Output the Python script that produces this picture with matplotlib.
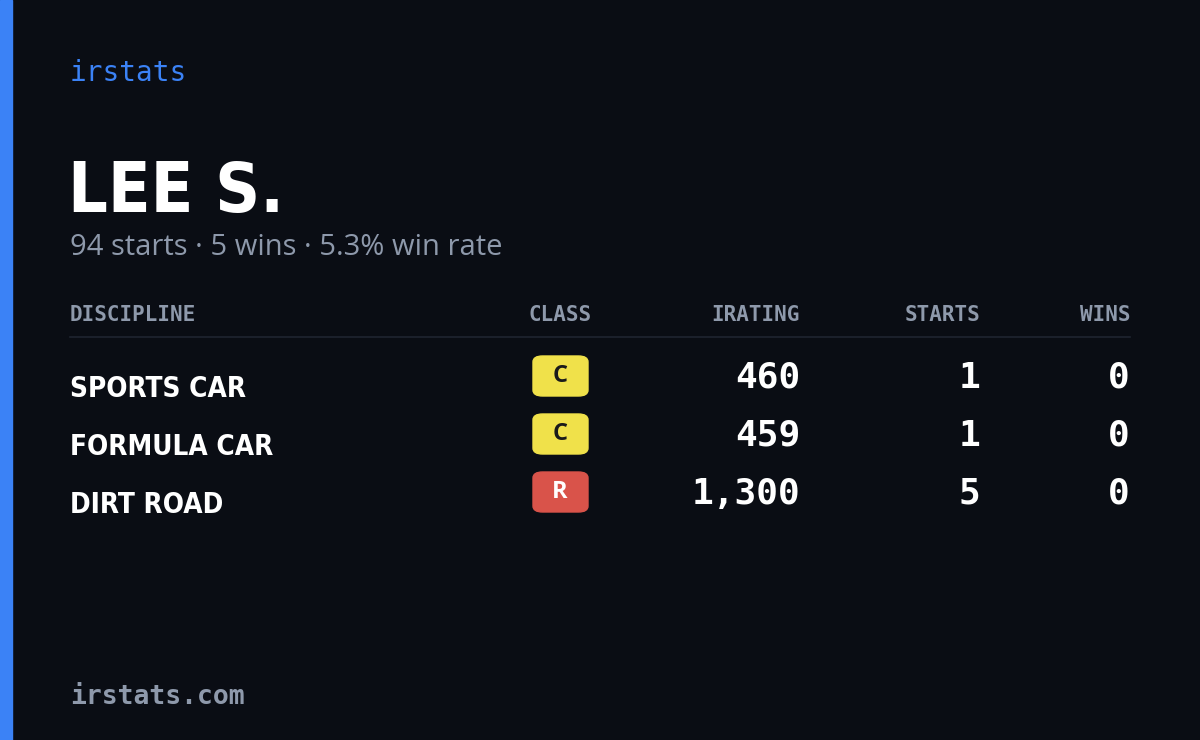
import matplotlib
matplotlib.use("Agg")
import matplotlib.pyplot as plt
from matplotlib.patches import FancyBboxPatch, Rectangle

disciplines = ["SPORTS CAR", "FORMULA CAR", "DIRT ROAD"]
classes = ["C", "C", "R"]
iratings = [460, 459, 1300]
starts = [1, 1, 5]
wins = [0, 0, 0]
driver = "LEE S."
total_starts, total_wins = 94, 5

W, H = 1200, 740
BG = "#0a0d14"
MUTED = "#8e99ab"
class_colors = {"C": "#f0e14a", "R": "#d9534a"}

mono = "DejaVu Sans Mono"
sans = "Open Sans"
cond = dict(family="DejaVu Sans", stretch="condensed", weight="bold")

fig = plt.figure(figsize=(W / 100, H / 100), dpi=100, facecolor=BG)


def px(x, y):
    return x / W, 1 - y / H


def txt(x, y, s, **kw):
    fig.text(*px(x, y), s, **kw)


fig.patches.append(Rectangle(px(0, H), 12 / W, 1, transform=fig.transFigure, color="#3b82f6"))

txt(70, 73, "irstats", family=mono, size=20, color="#3b82f6", va="center")
txt(68, 212, driver, size=50, color="white", va="baseline", **cond)
rate = total_wins / total_starts * 100
txt(70, 255, f"{total_starts} starts · {total_wins} wins · {rate:.1f}% win rate",
    family=sans, size=21, color=MUTED, va="baseline")

hy = 321
hdr = dict(family=mono, size=15, weight="bold", color=MUTED, va="baseline")
txt(70, hy, "DISCIPLINE", ha="left", **hdr)
txt(560, hy, "CLASS", ha="center", **hdr)
txt(800, hy, "IRATING", ha="right", **hdr)
txt(980, hy, "STARTS", ha="right", **hdr)
txt(1130, hy, "WINS", ha="right", **hdr)
fig.lines.append(plt.Line2D([70 / W, 1130 / W], [1 - 337 / H] * 2, transform=fig.transFigure,
                            color="#1f2530", lw=1.2))

for i, (d, c, ir, s, w) in enumerate(zip(disciplines, classes, iratings, starts, wins)):
    cy = 376 + 58 * i
    txt(70, cy + 21, d, size=20, color="white", va="baseline", **cond)
    x0, y0 = px(533, cy + 20)
    fig.patches.append(FancyBboxPatch((x0, y0), 55 / W, 40 / H, transform=fig.transFigure,
                                      boxstyle="round,pad=0,rounding_size=0.008",
                                      color=class_colors[c]))
    txt(560, cy, c, family=sans, size=17, weight="bold", ha="center", va="center",
        color="#1a1a1a" if c == "C" else "white")
    num = dict(family=mono, size=26, weight="bold", color="white", ha="right", va="center")
    txt(800, cy + 2, f"{ir:,}", **num)
    txt(980, cy + 2, str(s), **num)
    txt(1130, cy + 2, str(w), **num)

txt(70, 697, "irstats.com", family=mono, size=19, weight="bold", color=MUTED, va="center")

fig.savefig("out.png", dpi=100, facecolor=BG)
